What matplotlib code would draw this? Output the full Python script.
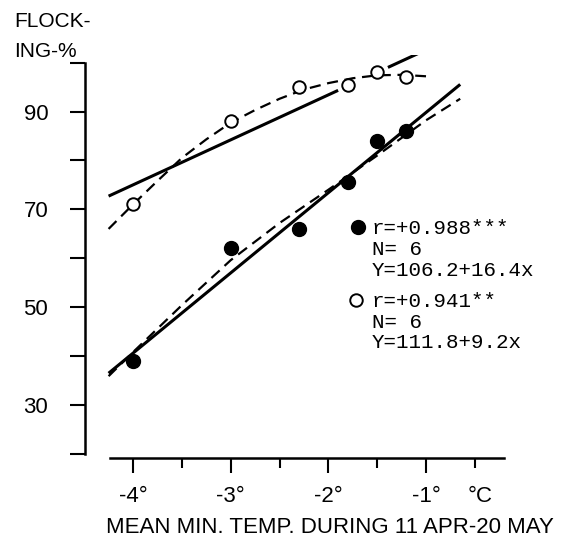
import matplotlib
matplotlib.use("Agg")
from matplotlib import pyplot as plt
from matplotlib import transforms
import numpy as np

## DATA ##
temp_filled = [-4.0, -3.0, -2.3, -1.8, -1.5, -1.2]
flock_filled = [39, 62, 66, 75.5, 84, 86]
temp_open = [-4.0, -3.0, -2.3, -1.8, -1.5, -1.2]
flock_open = [71, 88, 95, 95.5, 98, 97]

# printed regression lines: (intercept, slope) and the x-range each is drawn over
fit_filled = (106.2, 16.4)
fit_open = (111.8, 9.2)
fit_filled_span = [(-4.25, -0.65)]
fit_open_span = [(-4.25, -1.9), (-1.39, -0.73)]

# freehand dashed curves
curve_filled_x = [-4.25, -4.0, -3.5, -3.0, -2.5, -2.0, -1.5, -1.0, -0.65]
curve_filled_y = [35.9, 40.8, 50.4, 59.6, 67.2, 74.0, 81.0, 88.2, 92.6]
curve_open_x = [-4.25, -4.0, -3.75, -3.5, -3.25, -3.0, -2.75, -2.5, -2.25,
                -2.0, -1.75, -1.5, -1.25, -1.0]
curve_open_y = [66, 71, 75.8, 80.5, 84.3, 87.7, 90.3, 92.6, 94.5,
                95.8, 96.8, 97.4, 97.5, 97.2]

stats_filled = ["r=+0.988***", "N= 6", "Y=106.2+16.4x"]
stats_open = ["r=+0.941**", "N= 6", "Y=111.8+9.2x"]

x_ticks = [-4, -3, -2, -1]
x_ticklabels = ["-4°", "-3°", "-2°", "-1°"]
x_minor = [-3.5, -2.5, -1.5, -0.5]
y_ticks = [20, 30, 40, 50, 60, 70, 80, 90, 100]
y_ticklabels = ["", "30", "", "50", "", "70", "", "90", ""]


## PLOT ##
W, H = 568, 542
fig = plt.figure(figsize=(W / 100, H / 100), dpi=100)
fig.patch.set_facecolor("white")

# axes box in pixels: left, right, top, bottom
L, R, T, B = 85, 520, 55, 458
ax = fig.add_axes([L / W, 1 - B / H, (R - L) / W, (B - T) / H])
ax.set_xlim(-4.4915, -0.0377)
ax.set_ylim(19.17, 101.55)


def ax_frac(px, py):
    return (px - L) / (R - L), (B - py) / (B - T)


sans = ["Liberation Sans", "DejaVu Sans"]
mono = ["Liberation Mono", "DejaVu Sans Mono"]

for sp in ["top", "right"]:
    ax.spines[sp].set_visible(False)
ax.spines["left"].set_bounds(20, 100)
ax.spines["bottom"].set_bounds(-4.24, -0.2)
for sp in ["left", "bottom"]:
    ax.spines[sp].set_linewidth(1.8)

ax.set_yticks(y_ticks, labels=y_ticklabels)
ax.set_xticks(x_ticks, labels=x_ticklabels)
ax.set_xticks(x_minor, minor=True)
ax.tick_params(axis="y", direction="out", length=10.5, width=1.5, pad=16,
               labelsize=16)
ax.tick_params(axis="x", which="major", direction="out", length=10.8,
               width=1.5, pad=9, labelsize=16)
ax.tick_params(axis="x", which="minor", direction="out", length=7.2, width=1.5)
for lab in ax.get_xticklabels() + ax.get_yticklabels():
    lab.set_family(sans)
for lab in ax.get_yticklabels():
    lab.set_verticalalignment("center_baseline")

# regression lines
for (a, b), spans in [(fit_filled, fit_filled_span), (fit_open, fit_open_span)]:
    for x0, x1 in spans:
        xs = np.array([x0, x1])
        ax.plot(xs, a + b * xs, color="black", lw=2.2, solid_capstyle="butt",
                zorder=2)

# dashed curves
ax.plot(curve_filled_x, curve_filled_y, color="black", lw=1.6,
        dashes=(5, 3), zorder=2)
ax.plot(curve_open_x, curve_open_y, color="black", lw=1.6,
        dashes=(5, 3), zorder=2)

ax.plot(temp_filled, flock_filled, "o", color="black", ms=10, zorder=3)
ax.plot(temp_open, flock_open, "o", mfc="white", mec="black", mew=1.4,
        ms=9, zorder=3)

# key with statistics
for (mx, my), filled, lines, baselines in [
        ((358, 227), True, stats_filled, [234, 255, 276]),
        ((356, 300), False, stats_open, [307, 328, 348])]:
    fx, fy = ax_frac(mx, my)
    if filled:
        ax.plot([fx], [fy], "o", color="black", ms=10,
                transform=ax.transAxes, clip_on=False)
    else:
        ax.plot([fx], [fy], "o", mfc="white", mec="black", mew=1.4,
                ms=9, transform=ax.transAxes, clip_on=False)
    for txt, by in zip(lines, baselines):
        tx, ty = ax_frac(372, by)
        ax.text(tx, ty, txt, transform=ax.transAxes, family=mono,
                fontsize=15, va="baseline", ha="left")

blend = transforms.blended_transform_factory(ax.transData, ax.transAxes)
ax.text(-0.45, ax_frac(0, 486)[1], "°C", transform=blend, family=sans,
        fontsize=16, ha="center", va="top")

fig.text(14 / W, 1 - 27 / H, "FLOCK-", family=sans, fontsize=15,
         va="baseline", ha="left")
fig.text(14 / W, 1 - 57 / H, "ING-%", family=sans, fontsize=15,
         va="baseline", ha="left")
fig.text(330 / W, 1 - 533 / H, "MEAN MIN. TEMP. DURING 11 APR-20 MAY",
         family=sans, fontsize=16, va="baseline", ha="center")

fig.savefig("out.png", dpi=100)
